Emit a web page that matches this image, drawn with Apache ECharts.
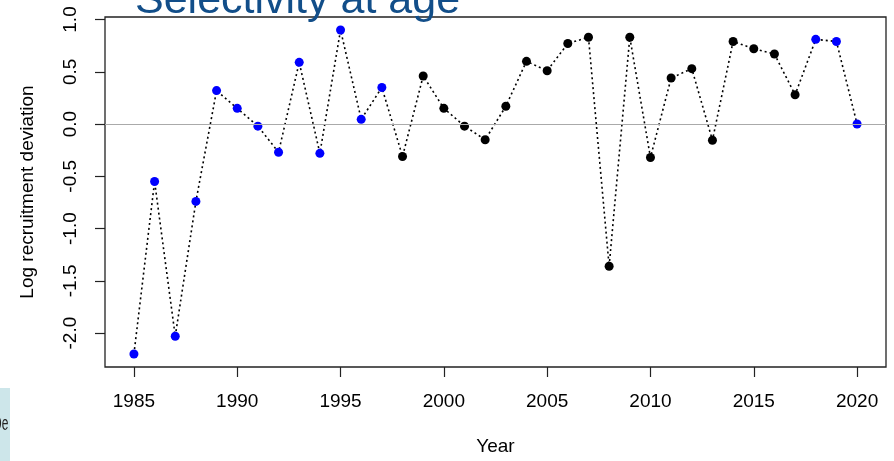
<!DOCTYPE html>
<html>
<head>
<meta charset="utf-8">
<script src="https://cdn.jsdelivr.net/npm/echarts@6/dist/echarts.min.js"></script>
<style>
html,body{margin:0;padding:0;background:#fff;}
#chart{width:894px;height:461px;}
</style>
</head>
<body>
<div id="chart"></div>
<script>
const years = [1985,1986,1987,1988,1989,1990,1991,1992,1993,1994,1995,1996,1997,1998,1999,2000,2001,2002,2003,2004,2005,2006,2007,2008,2009,2010,2011,2012,2013,2014,2015,2016,2017,2018,2019,2020];
const recDev = [-2.20,-0.55,-2.03,-0.74,0.32,0.15,-0.02,-0.27,0.59,-0.28,0.90,0.045,0.35,-0.31,0.46,0.15,-0.02,-0.15,0.17,0.60,0.51,0.77,0.83,-1.36,0.83,-0.32,0.44,0.53,-0.155,0.79,0.72,0.67,0.28,0.81,0.79,0.0];
const blueYears = [1985,1986,1987,1988,1989,1990,1991,1992,1993,1994,1995,1996,1997,2018,2019,2020];
const xTicks = [1985,1990,1995,2000,2005,2010,2015,2020];
const yTicks = [-2.0,-1.5,-1.0,-0.5,0.0,0.5,1.0];
const titleText = 'Selectivity at age';
const xName = 'Year';
const yName = 'Log recruitment deviation';

const pairs = years.map((y,i)=>[y, recDev[i]]);
const bluePts = pairs.filter(p=>blueYears.includes(p[0]));
const blackPts = pairs.filter(p=>!blueYears.includes(p[0]));

const FONT = '"Liberation Sans", Arial, sans-serif';
const chart = echarts.init(document.getElementById('chart'), null, {renderer:'canvas'});
chart.setOption({
  animation:false,
  backgroundColor:'#ffffff',
  grid:{left:105,right:8,top:17,bottom:91,show:true,borderColor:'#222',borderWidth:1.3,backgroundColor:'transparent'},
  xAxis:{
    type:'value',min:1983.6,max:2021.4,
    name:xName,nameLocation:'middle',nameGap:70,
    nameTextStyle:{fontFamily:FONT,fontSize:19,color:'#000'},
    axisLine:{show:false,onZero:false},
    axisTick:{show:true,length:10,inside:false,customValues:xTicks,lineStyle:{color:'#222',width:1.2}},
    axisLabel:{customValues:xTicks,margin:25,fontFamily:FONT,fontSize:19,color:'#000',formatter:v=>String(v)},
    splitLine:{show:false}
  },
  yAxis:{
    type:'value',min:-2.324,max:1.024,
    name:yName,nameLocation:'middle',nameGap:68,nameRotate:90,
    nameTextStyle:{fontFamily:FONT,fontSize:19,color:'#000'},
    axisLine:{show:false,onZero:false},
    axisTick:{show:true,length:10,inside:false,customValues:yTicks,lineStyle:{color:'#222',width:1.2}},
    axisLabel:{customValues:yTicks,rotate:90,margin:25,fontFamily:FONT,fontSize:19,color:'#000',formatter:v=>v.toFixed(1)},
    splitLine:{show:false}
  },
  series:[
    {
      type:'line',data:pairs,symbol:'none',silent:true,z:2,
      lineStyle:{color:'#000',width:1.6,type:[2,3]},
      markLine:{silent:true,symbol:['none','none'],label:{show:false},
        lineStyle:{color:'#aaaaaa',type:'solid',width:1.2},data:[{yAxis:0}]}
    },
    {type:'scatter',data:bluePts,symbol:'circle',symbolSize:9,itemStyle:{color:'#0000ff',opacity:1},z:3},
    {type:'scatter',data:blackPts,symbol:'circle',symbolSize:9,itemStyle:{color:'#000000',opacity:1},z:3}
  ],
  graphic:[
    {type:'text',left:135,top:-20.5,z:10,style:{text:titleText,font:'43px "Liberation Sans", Arial, sans-serif',fill:'#124e89'}},
    {type:'rect',shape:{x:0,y:388,width:10,height:73},style:{fill:'#cde6ea'},z:1},
    {type:'text',x:6,y:424,scaleX:0.6,originX:6,originY:424,z:2,style:{text:'De',align:'right',verticalAlign:'middle',font:'20px "Liberation Sans", Arial, sans-serif',fill:'#222'}}
  ]
});
</script>
</body>
</html>
